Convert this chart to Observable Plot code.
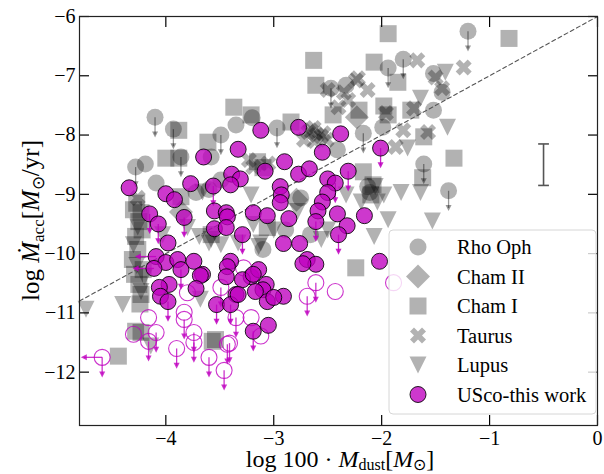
<!DOCTYPE html>
<html>
<head>
<meta charset="utf-8">
<script src="https://cdn.jsdelivr.net/npm/d3@7"></script>
<script src="https://cdn.jsdelivr.net/npm/@observablehq/plot@0.6"></script>
<style>
  body { margin: 0; background: #fff; }
  #chart { width: 604px; height: 474px; }
  #chart svg text { font-family: 'Liberation Serif', 'Times New Roman', serif; }
</style>
</head>
<body>
<div id="chart"></div>
<script>
// log 100·Mdust (x) vs log Mdot_acc (y). Third entry: "d" = upper limit in y, "l" = upper limit in x.
const rhoOph = [
  [-4.10,-7.70,"d"],[-3.93,-7.90,"d"],[-4.28,-8.54,"d"],[-4.19,-8.49],[-3.49,-8.00,"d"],
  [-3.35,-7.83],[-3.20,-7.71],[-2.97,-7.88,"d"],[-2.47,-7.21,"d"],[-2.33,-7.16],
  [-1.94,-6.87,"d"],[-1.80,-6.72,"d"],[-1.52,-6.96],[-1.20,-6.25,"d"],[-2.17,-7.97,"d"],
  [-1.99,-7.87],[-1.61,-8.49,"d"],[-1.38,-8.94,"d"],[-2.11,-8.97],[-2.41,-8.25],
  [-1.44,-7.28],[-1.52,-7.58],[-4.09,-8.81],[-3.86,-8.37,"d"],[-3.60,-8.92],
  [-3.72,-8.97],[-3.49,-8.76],[-2.89,-9.60],[-2.66,-9.68],[-3.10,-9.93],
  [-2.13,-8.87],[-3.58,-8.37],[-2.75,-9.06]
];
const chamII = [[-2.79,-9.09],[-2.23,-7.70],[-3.86,-9.30]];
const chamI = [
  [-1.94,-6.29],[-0.82,-6.37],[-2.63,-6.74],[-2.07,-6.77],[-2.61,-7.16],[-1.85,-7.11],
  [-1.73,-7.58],[-1.33,-8.39],[-1.62,-8.72],[-1.98,-7.51],[-2.10,-9.01],[-2.17,-8.62],
  [-2.21,-7.58],[-2.45,-7.66],[-3.37,-7.53],[-3.21,-7.66],[-2.84,-7.78],[-3.61,-8.12],
  [-3.88,-7.92],[-4.00,-8.39],[-3.88,-8.39],[-4.30,-9.26],[-4.25,-9.46],[-4.23,-9.31],
  [-4.28,-9.71],[-4.26,-9.93],[-4.31,-10.10],[-4.21,-10.27],[-4.25,-10.52],[-4.23,-10.69],
  [-4.44,-11.73],[-4.28,-11.31],[-3.54,-11.45],[-3.57,-11.48],[-4.23,-11.33],[-2.24,-10.24],
  [-2.08,-8.84],[-3.06,-9.56],[-1.61,-8.03],[-1.94,-7.66],[-3.86,-9.04],[-3.58,-9.68],
  [-3.15,-8.45],[-3.10,-8.55],[-4.27,-9.15],[-4.22,-9.60],[-4.29,-10.35],[-4.24,-10.85]
];
const taurus = [
  [-1.67,-6.74],[-1.24,-6.86],[-2.22,-7.04],[-2.13,-7.24],[-2.35,-7.28],[-2.31,-7.41],
  [-1.96,-7.63],[-1.80,-7.92],[-1.70,-7.55],[-1.57,-7.95],[-1.50,-7.03],[-1.44,-7.21],
  [-2.68,-7.95],[-2.63,-7.88],[-2.56,-8.02],[-2.72,-8.08],[-1.87,-8.20],[-2.50,-7.24],
  [-2.40,-7.53],[-2.24,-7.08],[-2.51,-8.08],[-3.19,-8.54],[-3.23,-8.42],[-4.26,-9.06],
  [-2.66,-7.92],[-2.60,-8.00],[-2.54,-7.97],[-2.62,-8.10],[-3.05,-8.48]
];
const lupus = [
  [-1.41,-6.94],[-1.64,-7.38],[-1.39,-7.87],[-1.76,-8.22],[-1.94,-9.43],[-1.82,-8.97],
  [-2.04,-9.13],[-3.66,-8.96],[-2.78,-9.29],[-3.19,-9.51],[-3.00,-9.60],[-2.50,-9.60],
  [-2.07,-9.71],[-3.58,-9.76],[-3.14,-9.88],[-3.33,-9.82],[-2.56,-9.76],[-2.06,-8.87],
  [-1.98,-9.01],[-2.19,-9.13],[-2.33,-9.01],[-4.23,-10.64],[-3.80,-9.56],[-3.69,-9.71],
  [-4.03,-9.68],[-4.74,-10.94],[-4.40,-10.86],[-4.14,-11.56],[-3.68,-10.77],[-3.60,-9.82],
  [-3.49,-9.85],[-3.12,-9.82],[-1.64,-8.97],[-1.53,-9.45],[-4.30,-9.85],[-3.21,-9.01],
  [-4.26,-9.55],[-4.20,-10.40],[-4.27,-10.20]
];
// Upper Sco, this work: dust detections (filled) and dust upper limits (open)
const uscoDet = [
  [-4.34,-8.89],[-4.15,-9.33,"d"],[-4.07,-9.50,"d"],[-3.83,-9.39,"d"],[-4.00,-8.99],[-3.92,-9.09],
  [-3.77,-8.82],[-3.56,-8.86,"d"],[-3.39,-8.66],[-3.31,-8.74],[-3.40,-8.84],[-3.12,-7.92],
  [-3.33,-8.24],[-3.65,-8.37],[-3.08,-8.61],[-3.55,-9.28],[-3.44,-9.31],[-3.43,-9.38],
  [-3.19,-9.31],[-3.06,-9.36],[-3.55,-9.58],[-3.44,-9.56],[-3.29,-9.68,"d"],[-3.98,-9.82],
  [-2.77,-7.87],[-2.38,-7.98],[-2.55,-8.29],[-2.01,-8.22,"d"],[-2.90,-8.45],[-2.77,-8.66],
  [-2.67,-8.57],[-2.31,-8.61,"d"],[-2.50,-8.74],[-2.43,-8.81,"d"],[-2.94,-8.87],[-2.93,-9.01],
  [-2.94,-9.14],[-2.50,-8.97],[-2.55,-9.13],[-2.59,-9.28],[-2.61,-9.46,"d"],[-2.16,-9.36],
  [-2.41,-9.33],[-2.32,-9.53],[-2.40,-9.68,"d"],[-2.86,-9.41],[-2.91,-9.83],[-2.76,-9.83],
  [-2.02,-10.13],[-2.69,-10.10],[-2.61,-10.18],[-2.73,-10.17],[-3.40,-10.13],[-3.43,-10.22],
  [-3.44,-10.39],[-3.66,-10.35],[-3.21,-10.39],[-3.14,-10.27],[-3.07,-10.52],[-3.10,-10.61],
  [-2.91,-10.72],[-3.06,-10.81],[-3.35,-10.69],[-3.53,-10.86,"d"],[-3.40,-10.86,"d"],[-4.09,-10.05,"l"],
  [-4.00,-10.15],[-3.89,-10.10],[-3.74,-10.13],[-3.86,-10.27,"d"],[-4.11,-10.25,"l"],[-3.68,-10.37],
  [-3.97,-10.52],[-4.06,-10.57],[-3.72,-10.59],[-4.05,-10.72],[-3.98,-10.81,"d"],[-3.29,-10.44],
  [-3.19,-10.35],[-3.33,-10.69],[-3.19,-11.31,"d"],[-3.05,-11.21],[-3.00,-10.74],[-3.17,-10.64]
];
const uscoUL = [
  [-4.59,-11.75,"dl"],[-4.30,-11.36],[-4.16,-11.08],[-4.09,-11.33,"d"],[-4.16,-11.48,"d"],[-3.83,-10.99],
  [-3.83,-11.11,"d"],[-3.74,-11.33,"d"],[-3.74,-11.50,"d"],[-3.90,-11.60,"d"],[-3.60,-11.75,"d"],[-3.43,-11.53,"d"],
  [-3.41,-11.51,"d"],[-3.46,-11.97,"d"],[-3.80,-10.66],[-3.49,-10.57,"d"],[-3.35,-11.08,"d"],[-3.21,-11.08],
  [-3.12,-11.39],[-3.28,-10.24],[-2.69,-10.72,"d"],[-2.43,-10.64],[-2.61,-10.49,"d"],[-1.89,-10.49]
];
// typical uncertainty shown at the right
const errBar = [{x: -0.5, y: -8.5, err: 0.35}];
const xTicks = [-4, -3, -2, -1, 0];
const yTicks = [-12, -11, -10, -9, -8, -7, -6];
const legendLabels = ["Rho Oph", "Cham II", "Cham I", "Taurus", "Lupus", "USco-this work"];

// marker shapes (size is area; h is the half-extent)
const half = (s) => Math.sqrt(s / Math.PI);
const circle = {draw(c, s) { const h = half(s); c.moveTo(h, 0); c.arc(0, 0, h, 0, 2 * Math.PI); }};
const square = {draw(c, s) { const h = half(s); c.rect(-h, -h, 2 * h, 2 * h); }};
const diamond = {draw(c, s) { const h = half(s) * 1.41; c.moveTo(0, -h); c.lineTo(h, 0); c.lineTo(0, h); c.lineTo(-h, 0); c.closePath(); }};
const triDown = {draw(c, s) { const h = half(s); c.moveTo(-h, -h); c.lineTo(h, -h); c.lineTo(0, h); c.closePath(); }};
const triLeft = {draw(c, s) { const h = half(s); c.moveTo(h, -h); c.lineTo(h, h); c.lineTo(-h, 0); c.closePath(); }};
const xFilled = {draw(c, s) {
  const u = half(s) / 3, a = Math.SQRT1_2;
  const pts = [[-1,-3],[1,-3],[1,-1],[3,-1],[3,1],[1,1],[1,3],[-1,3],[-1,1],[-3,1],[-3,-1],[-1,-1]];
  pts.forEach(([px, py], i) => { const X = (px - py) * a * u, Y = (px + py) * a * u; i ? c.lineTo(X, Y) : c.moveTo(X, Y); });
  c.closePath();
}};

const GRAY = "#000", GRAY_OP = 0.3;
const MAG = "#bf00bf";
const ARROW_DY = 0.29, ARROW_DX = 0.17;

const downs = (pts) => pts.filter(p => p[2] && p[2].includes("d"));
const lefts = (pts) => pts.filter(p => p[2] && p[2].includes("l"));

function arrows(pts, color, opacity) {
  return [
    Plot.link(downs(pts), {x1: d => d[0], y1: d => d[1], x2: d => d[0], y2: d => d[1] - ARROW_DY,
      stroke: color, strokeOpacity: opacity, strokeWidth: 1.3}),
    Plot.dot(downs(pts), {x: d => d[0], y: d => d[1] - ARROW_DY, symbol: triDown, r: 3,
      fill: color, fillOpacity: opacity, stroke: "none"}),
    Plot.link(lefts(pts), {x1: d => d[0], y1: d => d[1], x2: d => d[0] - ARROW_DX, y2: d => d[1],
      stroke: color, strokeOpacity: opacity, strokeWidth: 1.3}),
    Plot.dot(lefts(pts), {x: d => d[0] - ARROW_DX, y: d => d[1], symbol: triLeft, r: 3,
      fill: color, fillOpacity: opacity, stroke: "none"})
  ];
}

function grayGroup(pts, symbol, r) {
  return [
    ...arrows(pts, GRAY, 0.4),
    Plot.dot(pts, {x: d => d[0], y: d => d[1], symbol, r, fill: GRAY, fillOpacity: GRAY_OP, stroke: "none"})
  ];
}

const minus = (d) => d < 0 ? "\u2212" + Math.abs(d) : String(d);
const W = 604, H = 474, ML = 79, MR = 7, MT = 16, MB = 49;
const serif = "'Liberation Serif', 'Times New Roman', serif";

const plot = Plot.plot({
  width: W, height: H,
  marginLeft: ML, marginRight: MR, marginTop: MT, marginBottom: MB,
  x: {domain: [-4.8, 0], label: null},
  y: {domain: [-12.9, -6], label: null},
  style: {fontFamily: serif, fontSize: "20px", background: "#fff", color: "#000", overflow: "visible"},
  marks: [
    ...grayGroup(rhoOph, circle, 8.5),
    ...grayGroup(chamII, diamond, 8.5),
    ...grayGroup(chamI, square, 8.5),
    ...grayGroup(taurus, xFilled, 8.5),
    ...grayGroup(lupus, triDown, 8.5),
    // one-to-one relation: log Mdot_acc = log(100·Mdust) - 6
    Plot.line([-4.8, 0], {x: d => d, y: d => d - 6, stroke: "#555", strokeWidth: 1.1, strokeDasharray: "4,3"}),
    ...arrows(uscoUL, MAG, 0.8),
    Plot.dot(uscoUL, {x: d => d[0], y: d => d[1], r: 8, fill: "none", stroke: MAG, strokeOpacity: 0.8, strokeWidth: 1.1}),
    ...arrows(uscoDet, MAG, 0.85),
    Plot.dot(uscoDet, {x: d => d[0], y: d => d[1], r: 8, fill: MAG, fillOpacity: 0.78, stroke: "#000", strokeOpacity: 0.85, strokeWidth: 1}),
    // representative error bar
    Plot.link(errBar, {x1: d => d.x, x2: d => d.x, y1: d => d.y - d.err, y2: d => d.y + d.err, stroke: "#555", strokeWidth: 1.6}),
    Plot.link(errBar, {x1: d => d.x - 0.05, x2: d => d.x + 0.05, y1: d => d.y - d.err, y2: d => d.y - d.err, stroke: "#555", strokeWidth: 1.6}),
    Plot.link(errBar, {x1: d => d.x - 0.05, x2: d => d.x + 0.05, y1: d => d.y + d.err, y2: d => d.y + d.err, stroke: "#555", strokeWidth: 1.6}),
    // axes: labels outside, ticks inward on all four sides
    Plot.axisX(xTicks, {anchor: "bottom", tickSize: 0, tickPadding: 5, tickFormat: minus, fontSize: 20, fontFamily: serif}),
    Plot.axisY(yTicks, {anchor: "left", tickSize: 0, tickPadding: 4, tickFormat: minus, fontSize: 20, fontFamily: serif}),
    Plot.axisX(xTicks, {anchor: "bottom", tickSize: -10, tickFormat: () => "", strokeWidth: 1.2}),
    Plot.axisX(xTicks, {anchor: "top", tickSize: -10, tickFormat: () => "", strokeWidth: 1.2}),
    Plot.axisY(yTicks, {anchor: "left", tickSize: -10, tickFormat: () => "", strokeWidth: 1.2}),
    Plot.axisY(yTicks, {anchor: "right", tickSize: -10, tickFormat: () => "", strokeWidth: 1.2}),
    Plot.frame({stroke: "#222", strokeWidth: 1.2})
  ]
});

document.getElementById("chart").appendChild(plot);
const svg = d3.select(plot);

// y-axis title: log Ṁ_acc [M_⊙/yr]
const yt = svg.append("text")
  .attr("transform", `translate(39,${(MT + H - MB) / 2}) rotate(-90)`)
  .attr("text-anchor", "middle").attr("font-size", 25).attr("fill", "#000");
yt.append("tspan").text("log ");
yt.append("tspan").attr("font-style", "italic").text("\u1E40");
yt.append("tspan").attr("font-size", 17).attr("dy", 5).text("acc");
yt.append("tspan").attr("dy", -5).text("[");
yt.append("tspan").attr("font-style", "italic").text("M");
yt.append("tspan").attr("font-size", 17).attr("dy", 5).text("\u2299");
yt.append("tspan").attr("dy", -5).text("/yr]");

// x-axis title: log 100 · M_dust [M_⊙]
const xt = svg.append("text")
  .attr("x", (ML + W - MR) / 2 + 2).attr("y", H - 7)
  .attr("text-anchor", "middle").attr("font-size", 24).attr("fill", "#000");
xt.append("tspan").text("log 100 \u00B7 ");
xt.append("tspan").attr("font-style", "italic").text("M");
xt.append("tspan").attr("font-size", 16).attr("dy", 3).text("dust");
xt.append("tspan").attr("dy", -3).text("[");
xt.append("tspan").attr("font-style", "italic").text("M");
xt.append("tspan").attr("font-size", 16).attr("dy", 3).text("\u2299");
xt.append("tspan").attr("dy", -3).text("]");

// legend, lower right inside the axes
const legW = 207, legH = 184;
const legX = W - MR - legW - 1, legY = H - MB - legH - 11;
const lg = svg.append("g").attr("transform", `translate(${legX},${legY})`).attr("text-anchor", "start");
lg.append("rect").attr("width", legW).attr("height", legH).attr("rx", 4)
  .attr("fill", "#fff").attr("fill-opacity", 0.8).attr("stroke", "#d6d6d6");
const legSyms = [circle, diamond, square, xFilled, triDown, circle];
legendLabels.forEach((label, i) => {
  const cy = 17 + i * 29.5;
  const p = d3.path();
  legSyms[i].draw(p, Math.PI * (i === 5 ? 8 : 8.5) ** 2);
  const m = lg.append("path").attr("d", p.toString()).attr("transform", `translate(29,${cy})`);
  if (i === 5) m.attr("fill", MAG).attr("fill-opacity", 0.78).attr("stroke", "#000").attr("stroke-opacity", 0.85);
  else m.attr("fill", GRAY).attr("fill-opacity", GRAY_OP);
  lg.append("text").attr("x", 68).attr("y", cy + 7).attr("text-anchor", "start")
    .attr("font-size", 20.5).attr("fill", "#000").text(label);
});
</script>
</body>
</html>
